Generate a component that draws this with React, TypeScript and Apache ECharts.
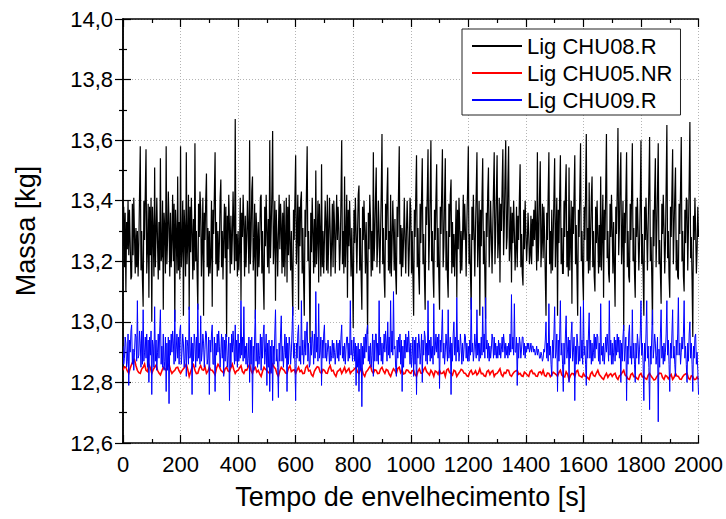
import React, { useEffect, useRef } from "react";
import * as echarts from "echarts";

// Tick labels
const xTicks = [0, 200, 400, 600, 800, 1000, 1200, 1400, 1600, 1800, 2000];
const yTicks = [12.6, 12.8, 13.0, 13.2, 13.4, 13.6, 13.8, 14.0];

// Sampling steps (s)
const stepCHU08 = 2.5;
const stepCHU09 = 2.5;
const stepCHU05 = 5;

// Lig CHU08.R (black), every 2.5 s
const chu08 = [
  13.25,13.38,13.18,13.36,13.10,13.33,13.24,13.40,13.22,13.37,13.26,13.14,13.15,13.39,13.22,13.41,13.28,13.16,13.31,13.18,13.30,13.15,13.26,13.42,13.58,13.17,13.30,13.14,13.05,13.40,13.27,13.43,13.57,13.16,13.24,13.39,13.08,13.38,13.22,13.41,
  13.00,13.38,13.30,13.15,13.51,13.18,13.29,13.41,13.26,13.14,13.33,13.17,13.54,13.20,13.22,13.40,13.04,13.36,13.31,13.16,13.58,13.19,13.28,13.43,13.32,13.15,13.36,13.18,13.27,13.42,13.20,13.39,13.00,13.37,13.29,13.16,13.48,13.17,13.33,13.14,
  13.58,13.18,13.25,13.40,13.02,13.37,13.30,13.15,13.56,13.19,13.27,13.42,13.04,13.38,13.23,13.41,13.30,13.14,13.34,13.17,13.59,13.20,13.30,13.16,13.04,13.39,13.28,13.43,13.37,13.15,13.25,13.41,13.02,13.36,13.27,13.40,13.49,13.18,13.31,13.15,
  13.30,13.16,13.22,13.40,13.05,13.37,13.29,13.42,13.56,13.19,13.33,13.15,13.30,13.17,13.26,13.41,13.47,13.18,13.30,13.14,13.28,13.39,13.21,13.38,12.95,13.35,13.24,13.42,13.31,13.16,13.35,13.19,13.28,13.43,13.31,13.17,13.67,13.20,13.29,13.15,
  13.30,13.17,13.24,13.41,13.07,13.36,13.28,13.42,13.32,13.15,13.35,13.18,13.28,13.40,13.30,13.16,13.60,13.19,13.27,13.43,13.48,13.17,13.23,13.39,13.01,13.36,13.29,13.15,13.33,13.18,13.26,13.41,13.42,13.16,13.30,13.14,13.04,13.38,13.25,13.42,
  13.30,13.18,13.34,13.16,13.60,13.21,13.31,13.43,13.63,13.19,13.26,13.40,13.07,13.37,13.28,13.15,13.29,13.42,13.24,13.39,13.32,13.16,13.36,13.18,13.40,13.15,13.28,13.41,13.13,13.38,13.22,13.42,13.26,13.17,13.30,13.15,13.02,13.37,13.27,13.41,
  13.55,13.19,13.29,13.42,13.04,13.38,13.25,13.40,13.43,13.16,13.31,13.14,13.02,13.37,13.28,13.43,13.58,13.20,13.30,13.15,12.93,13.36,13.23,13.41,13.30,13.16,13.34,13.18,13.50,13.19,13.27,13.40,13.13,13.39,13.29,13.15,13.52,13.18,13.30,13.16,
  13.27,13.40,13.33,13.17,13.42,13.16,13.29,13.41,13.30,13.15,13.26,13.39,13.18,13.40,13.32,13.16,13.29,13.42,13.27,13.38,13.31,13.17,13.24,13.41,13.60,13.19,13.30,13.16,13.48,13.18,13.28,13.42,13.08,13.37,13.25,13.40,13.28,13.15,13.31,13.17,
  12.98,13.37,13.26,13.41,13.30,13.16,13.29,13.42,13.45,13.17,13.31,13.15,13.04,13.38,13.27,13.40,13.29,13.16,13.33,13.18,12.96,13.36,13.24,13.42,13.34,13.15,13.30,13.17,13.56,13.20,13.28,13.41,13.51,13.18,13.25,13.40,13.30,13.16,13.29,13.43,
  13.62,13.19,13.31,13.15,13.08,13.39,13.27,13.42,13.51,13.17,13.30,13.16,13.42,13.15,13.26,13.40,13.30,13.17,13.34,13.16,13.09,13.38,13.28,13.43,13.58,13.19,13.32,13.15,13.31,13.18,13.27,13.41,13.28,13.16,13.30,13.40,13.29,13.15,13.24,13.41,
  13.37,13.16,13.30,13.15,13.02,13.37,13.28,13.42,13.55,13.18,13.31,13.16,13.09,13.39,13.26,13.41,13.54,13.19,13.29,13.15,13.04,13.38,13.32,13.43,13.57,13.17,13.28,13.42,13.60,13.20,13.30,13.16,13.08,13.37,13.27,13.41,13.52,13.18,13.31,13.15,
  13.04,13.38,13.29,13.43,13.57,13.18,13.25,13.41,13.54,13.17,13.30,13.15,13.08,13.39,13.28,13.42,13.47,13.16,13.33,13.18,13.29,13.15,13.26,13.40,13.08,13.37,13.24,13.41,13.32,13.16,13.30,13.17,13.28,13.42,13.27,13.39,13.30,13.15,13.33,13.44,
  13.58,13.19,13.29,13.16,13.04,13.38,13.27,13.42,13.29,13.15,13.31,13.43,13.56,13.18,13.28,13.40,13.02,13.37,13.25,13.41,13.54,13.19,13.30,13.15,13.01,13.36,13.28,13.43,13.51,13.18,13.26,13.40,13.29,13.16,13.31,13.44,13.56,13.19,13.29,13.42,
  13.55,13.21,13.27,13.41,13.13,13.39,13.30,13.45,13.57,13.22,13.32,13.48,13.60,13.24,13.28,13.46,13.58,13.20,13.25,13.38,13.13,13.36,13.26,13.40,13.30,13.17,13.24,13.38,13.18,13.35,13.27,13.41,13.52,13.18,13.29,13.16,13.12,13.37,13.24,13.40,
  13.30,13.20,13.26,13.36,13.29,13.19,13.22,13.35,13.19,13.34,13.25,13.37,13.27,13.40,13.30,13.17,13.56,13.20,13.28,13.42,13.53,13.18,13.26,13.39,13.21,13.38,13.29,13.15,13.02,13.36,13.27,13.42,13.56,13.19,13.30,13.16,13.37,13.17,13.28,13.41,
  13.54,13.18,13.29,13.41,13.02,13.37,13.26,13.42,13.55,13.19,13.31,13.16,13.16,13.40,13.28,13.43,13.52,13.18,13.30,13.15,13.51,13.17,13.27,13.40,13.06,13.38,13.29,13.42,13.55,13.19,13.32,13.16,13.02,13.37,13.28,13.43,13.59,13.20,13.30,13.15,
  13.07,13.38,13.27,13.43,13.62,13.20,13.31,13.16,13.46,13.17,13.28,13.41,13.48,13.18,13.30,13.15,13.10,13.38,13.26,13.40,13.28,13.16,13.32,13.18,13.48,13.17,13.29,13.42,13.08,13.37,13.27,13.44,13.62,13.21,13.30,13.16,13.13,13.39,13.28,13.42,
  13.30,13.16,13.33,13.18,13.05,13.38,13.29,13.44,13.64,13.22,13.31,13.47,13.56,13.19,13.28,13.40,12.97,13.36,13.26,13.42,13.56,13.18,13.30,13.15,13.13,13.39,13.27,13.43,13.59,13.20,13.31,13.16,13.08,13.38,13.28,13.41,13.30,13.17,13.26,13.40,
  13.60,13.19,13.29,13.16,13.02,13.38,13.27,13.41,13.30,13.17,13.32,13.45,13.61,13.20,13.28,13.15,12.99,13.37,13.25,13.42,13.54,13.18,13.30,13.44,13.59,13.19,13.27,13.16,13.06,13.39,13.29,13.42,13.31,13.16,13.26,13.45,13.65,13.21,13.30,13.15,
  13.08,13.38,13.28,13.43,13.57,13.19,13.31,13.42,13.51,13.17,13.27,13.15,13.14,13.39,13.29,13.44,13.61,13.20,13.30,13.15,13.10,13.37,13.26,13.41,13.40,13.17,13.31,13.46,13.66,13.21,13.28,13.14,12.95,13.35,13.27,13.41,13.30,13.16,13.24,13.38,
  13.28,
];

// Lig CHU05.NR (red), every 5 s
const chu05 = [
  12.84,12.852,12.85,12.838,12.83,12.847,12.86,12.87,12.875,12.855,12.84,12.832,12.83,12.844,12.85,12.861,12.84,12.836,12.86,12.848,
  12.83,12.842,12.85,12.857,12.84,12.831,12.825,12.838,12.85,12.846,12.84,12.853,12.86,12.841,12.83,12.836,12.84,12.849,12.85,12.838,
  12.83,12.839,12.845,12.851,12.86,12.843,12.82,12.835,12.85,12.858,12.84,12.829,12.83,12.846,12.855,12.842,12.84,12.852,12.83,12.837,
  12.85,12.841,12.84,12.833,12.825,12.847,12.86,12.852,12.84,12.836,12.83,12.845,12.85,12.838,12.835,12.849,12.86,12.843,12.83,12.838,
  12.84,12.848,12.855,12.836,12.83,12.842,12.84,12.851,12.86,12.839,12.83,12.846,12.85,12.834,12.84,12.828,12.82,12.837,12.85,12.843,
  12.84,12.833,12.83,12.848,12.86,12.851,12.845,12.829,12.82,12.838,12.85,12.844,12.84,12.831,12.83,12.847,12.855,12.836,12.84,12.842,
  12.83,12.841,12.85,12.836,12.84,12.829,12.83,12.849,12.855,12.838,12.84,12.826,12.82,12.837,12.845,12.852,12.85,12.834,12.83,12.843,
  12.84,12.831,12.83,12.846,12.855,12.838,12.84,12.827,12.82,12.836,12.84,12.845,12.83,12.839,12.85,12.833,12.84,12.846,12.83,12.837,
  12.84,12.846,12.85,12.834,12.83,12.841,12.845,12.828,12.82,12.835,12.84,12.848,12.855,12.837,12.83,12.842,12.84,12.829,12.83,12.844,
  12.85,12.838,12.83,12.843,12.84,12.827,12.82,12.834,12.845,12.839,12.83,12.846,12.85,12.832,12.84,12.828,12.83,12.841,12.84,12.833,
  12.83,12.839,12.84,12.826,12.82,12.837,12.845,12.831,12.83,12.842,12.85,12.836,12.83,12.824,12.84,12.833,12.82,12.838,12.835,12.827,
  12.84,12.829,12.83,12.836,12.82,12.841,12.845,12.832,12.83,12.824,12.84,12.837,12.82,12.828,12.835,12.843,12.84,12.831,12.83,12.822,
  12.82,12.834,12.84,12.827,12.83,12.838,12.825,12.831,12.845,12.829,12.83,12.822,12.82,12.836,12.84,12.826,12.835,12.839,12.82,12.828,
  12.83,12.837,12.845,12.826,12.82,12.833,12.83,12.841,12.84,12.824,12.82,12.829,12.835,12.838,12.84,12.827,12.83,12.822,12.82,12.834,
  12.83,12.824,12.82,12.836,12.84,12.829,12.83,12.821,12.82,12.833,12.835,12.827,12.84,12.823,12.82,12.831,12.83,12.819,12.825,12.834,
  12.83,12.826,12.82,12.833,12.84,12.824,12.82,12.818,12.835,12.827,12.81,12.823,12.83,12.829,12.82,12.836,12.84,12.822,12.82,12.817,
  12.83,12.821,12.82,12.815,12.81,12.828,12.835,12.823,12.82,12.831,12.84,12.826,12.82,12.814,12.81,12.822,12.83,12.817,12.825,12.829,
  12.82,12.827,12.83,12.816,12.81,12.822,12.825,12.833,12.84,12.824,12.82,12.812,12.81,12.826,12.83,12.819,12.82,12.814,12.81,12.825,
  12.83,12.818,12.82,12.813,12.81,12.824,12.83,12.821,12.815,12.808,12.81,12.819,12.825,12.831,12.83,12.816,12.81,12.823,12.82,12.812,
  12.82,12.826,12.81,12.817,12.83,12.821,12.82,12.811,12.81,12.819,12.825,12.828,12.83,12.814,12.81,12.822,12.82,12.809,12.81,12.818,
  12.81,
];

// Lig CHU09.R (blue), every 2.5 s
const chu09 = [
  12.92,12.86,12.88,12.95,12.93,12.85,12.87,12.96,12.79,12.94,12.90,12.97,12.99,12.86,12.91,12.84,12.90,12.96,12.95,12.87,13.07,12.88,12.89,12.97,12.93,12.85,12.97,12.86,13.04,12.87,12.90,12.95,12.88,12.96,12.85,12.94,12.80,12.95,12.89,12.97,
  12.76,12.94,12.92,12.85,13.05,12.87,12.94,12.84,12.90,12.96,12.88,12.97,13.04,12.86,12.92,12.85,12.96,12.84,12.87,12.95,12.77,12.93,12.84,12.95,12.73,12.94,12.89,12.96,12.90,12.97,12.93,12.86,13.04,12.87,12.91,12.96,12.88,12.95,12.86,12.97,
  12.99,12.86,12.90,12.96,12.93,12.85,12.88,12.95,12.82,12.94,12.92,12.86,13.05,12.88,12.89,12.95,12.76,12.93,12.87,12.96,12.93,12.85,12.95,12.87,13.06,12.88,12.93,12.86,13.02,12.87,12.90,12.96,12.93,12.85,12.91,12.97,12.96,12.86,12.88,12.95,
  12.76,12.94,12.90,12.96,12.99,12.86,12.86,12.95,12.77,12.93,12.89,12.96,12.90,12.97,12.92,12.85,12.90,12.96,12.88,12.95,12.82,12.94,12.87,12.96,12.93,12.85,12.89,12.95,12.74,12.93,12.85,12.96,12.90,12.97,12.92,12.86,12.99,12.87,12.94,12.85,
  12.96,12.87,12.93,12.88,13.07,12.89,12.95,12.87,13.05,12.88,12.92,12.86,12.93,12.85,12.88,12.95,12.80,12.94,12.86,12.95,12.70,12.92,12.84,12.95,13.04,12.87,12.93,12.85,12.93,12.86,12.89,12.96,12.84,12.95,12.88,12.96,12.99,12.86,12.90,12.96,
  12.79,12.93,12.85,12.94,12.77,12.92,12.83,12.94,12.74,12.92,12.86,12.96,13.04,12.87,12.91,12.85,12.75,12.93,12.87,12.96,13.02,12.87,12.92,12.85,12.90,12.96,12.88,12.95,12.77,12.93,12.86,12.95,12.92,12.86,12.90,12.97,13.05,12.88,12.93,12.86,
  12.74,12.93,12.88,12.96,12.99,12.87,12.92,12.86,13.07,12.89,12.94,12.86,12.90,12.97,12.89,12.96,13.00,12.87,12.93,12.85,12.86,12.95,12.89,12.97,12.93,12.86,12.96,12.88,13.10,12.90,12.95,12.87,13.06,12.88,12.90,12.95,12.79,12.94,12.88,12.96,
  12.99,12.88,12.93,12.87,12.90,12.94,12.91,12.86,12.92,12.87,12.89,12.94,12.88,12.93,12.90,12.86,12.90,12.94,12.88,12.93,12.87,12.94,12.89,12.95,12.99,12.88,12.92,12.87,12.93,12.86,12.91,12.95,12.95,12.87,12.93,12.88,13.07,12.89,12.94,12.87,
  12.90,12.95,12.87,12.93,12.79,12.92,12.85,12.93,12.77,12.91,12.84,12.93,12.72,12.92,12.86,12.95,12.88,12.96,12.90,12.97,12.99,12.87,12.92,12.86,12.93,12.85,12.89,12.96,12.82,12.94,12.87,12.96,12.96,12.87,12.93,12.86,13.07,12.89,12.95,12.87,
  12.93,12.86,12.91,12.96,12.90,12.97,12.93,12.87,13.00,12.89,12.95,12.88,13.07,12.90,12.97,12.89,13.10,12.91,12.92,12.85,12.82,12.94,12.88,12.95,12.90,12.96,12.86,12.94,12.77,12.92,12.85,12.94,12.88,12.96,12.90,12.95,12.90,12.97,12.92,12.86,
  12.93,12.85,12.89,12.95,12.82,12.94,12.86,12.95,12.76,12.93,12.88,12.96,12.93,12.86,12.90,12.96,12.80,12.94,12.89,12.97,12.95,12.87,12.93,12.86,13.07,12.89,12.94,12.87,12.95,12.88,12.92,12.86,13.06,12.89,12.91,12.96,12.90,12.95,12.88,12.96,
  12.78,12.94,12.90,12.96,13.04,12.88,12.93,12.86,12.90,12.96,12.92,12.87,13.04,12.88,12.91,12.95,12.76,12.93,12.87,12.96,13.00,12.89,12.95,12.87,13.08,12.90,12.94,12.87,12.90,12.96,12.92,12.86,12.93,12.87,12.91,12.96,12.95,12.88,12.93,12.87,
  12.92,12.87,12.94,12.89,13.08,12.90,12.93,12.87,12.90,12.96,12.92,12.88,13.04,12.89,12.93,12.87,12.93,12.88,12.95,12.89,13.05,12.90,12.96,12.88,13.08,12.91,12.94,12.88,12.93,12.87,12.92,12.88,12.91,12.96,12.94,12.88,12.95,12.89,12.93,12.88,
  12.92,12.88,12.94,12.89,12.93,12.88,12.91,12.95,12.90,12.96,12.93,12.88,12.93,12.89,12.92,12.88,12.93,12.89,12.96,12.90,13.09,12.91,12.95,12.89,13.06,12.90,12.90,12.95,12.79,12.93,12.88,12.95,12.93,12.88,12.91,12.95,12.95,12.89,12.93,12.88,
  12.92,12.90,12.93,12.91,12.93,12.90,12.91,12.93,12.90,12.92,12.92,12.90,12.91,12.89,12.90,12.92,12.89,12.91,12.90,12.88,12.88,12.90,12.89,12.87,12.88,12.91,12.90,12.94,13.00,12.88,12.93,12.87,13.06,12.89,12.92,12.86,12.82,12.94,12.88,12.96,
  13.05,12.88,12.90,12.96,12.77,12.94,12.87,12.96,13.07,12.89,12.93,12.86,12.77,12.93,12.86,12.96,13.02,12.88,12.91,12.95,12.80,12.94,12.88,12.96,13.00,12.87,12.90,12.95,12.74,12.92,12.86,12.96,12.93,12.86,12.92,12.87,13.05,12.88,12.94,12.86,
  13.07,12.89,12.92,12.86,12.79,12.94,12.88,12.96,13.03,12.88,12.94,12.86,12.93,12.87,12.90,12.96,12.88,12.95,12.91,12.96,12.95,12.87,12.93,12.86,13.06,12.89,12.92,12.87,12.93,12.86,12.90,12.95,12.90,12.96,12.92,12.87,13.07,12.89,12.94,12.86,
  12.93,12.86,12.90,12.95,12.87,12.94,12.89,12.96,12.90,12.95,12.88,12.94,12.80,12.93,12.87,12.95,12.99,12.87,12.91,12.95,12.74,12.92,12.86,12.96,12.99,12.88,12.92,12.86,13.04,12.88,12.93,12.86,12.80,12.93,12.88,12.96,12.93,12.86,12.91,12.96,
  13.07,12.89,12.93,12.86,12.74,12.93,12.87,12.96,13.07,12.88,12.92,12.85,12.71,12.92,12.86,12.96,13.04,12.88,12.91,12.96,12.93,12.86,12.89,12.95,12.67,12.91,12.85,12.96,13.04,12.88,12.92,12.86,12.93,12.87,12.90,12.96,13.07,12.89,12.94,12.86,
  12.77,12.93,12.88,12.96,13.04,12.88,12.92,12.86,12.82,12.94,12.89,12.96,13.08,12.89,12.93,12.86,12.90,12.95,12.91,12.96,13.07,12.88,12.92,12.86,12.80,12.93,12.87,12.96,13.00,12.88,12.93,12.86,12.77,12.92,12.88,12.95,12.96,12.86,12.90,12.84,
  12.76,
];

const seriesNames = ["Lig CHU08.R", "Lig CHU05.NR", "Lig CHU09.R"];
const seriesColors = ["#000000", "#ff0000", "#0000ff"];
const seriesWidths = [1.2, 1.6, 1.0];

const FONT = "'Liberation Sans', Arial, Helvetica, sans-serif";

function toPairs(values: number[], step: number): [number, number][] {
  return values.map((v, i) => [i * step, v]);
}

export default function App() {
  const ref = useRef<HTMLDivElement>(null);

  useEffect(() => {
    if (!ref.current) return;
    const chart = echarts.init(ref.current, undefined, { renderer: "svg" });

    const gridDash = { color: "#b4b4b4", type: [1, 2] as any, width: 1 };
    const tick = { show: true, inside: true, length: 8, lineStyle: { color: "#000", width: 1.2 } };
    const minor = { show: true, splitNumber: 2, length: 4, lineStyle: { color: "#000", width: 1.2 } };
    const axisLine = { show: true, lineStyle: { color: "#000", width: 1.5 } };

    const steps = [stepCHU08, stepCHU05, stepCHU09];
    const datas = [chu08, chu05, chu09];

    // Custom series: one polyline through every sample, positioned by the axis scales.
    const makeSeries = (i: number) => {
      const pairs = toPairs(datas[i], steps[i]);
      return {
        name: seriesNames[i],
        type: "custom",
        data: pairs,
        encode: { x: 0, y: 1 },
        color: seriesColors[i],
        itemStyle: { color: seriesColors[i] },
        z: 2 + i,
        clip: true,
        renderItem: (params: any, api: any) => {
          if (params.dataIndex !== 0) return null;
          const pts = pairs.map((p) => api.coord(p));
          return {
            type: "polyline",
            silent: true,
            shape: { points: pts },
            style: {
              stroke: seriesColors[i],
              lineWidth: seriesWidths[i],
              fill: null,
              lineJoin: "miter",
            },
          };
        },
      };
    };

    const option: any = {
      animation: false,
      backgroundColor: "#ffffff",
      textStyle: { fontFamily: FONT },
      grid: { left: 123, right: 26, top: 19, bottom: 76, containLabel: false },
      legend: {
        data: seriesNames,
        orient: "vertical",
        left: 462,
        top: 29,
        padding: [6, 8, 4, 10],
        itemGap: 5,
        itemWidth: 50,
        itemHeight: 2,
        itemTextGap: 7,
        icon: "rect",
        borderColor: "#222",
        borderWidth: 1,
        borderRadius: 0,
        backgroundColor: "#ffffff",
        textStyle: { fontSize: 22, color: "#000", fontFamily: FONT, lineHeight: 22 },
      },
      xAxis: [
        {
          type: "value",
          min: xTicks[0],
          max: xTicks[xTicks.length - 1],
          interval: 200,
          name: "Tempo de envelhecimento [s]",
          nameLocation: "middle",
          nameGap: 40,
          nameTextStyle: { fontSize: 27, color: "#000", fontFamily: FONT },
          axisLine,
          axisTick: tick,
          minorTick: minor,
          axisLabel: {
            margin: 10,
            fontSize: 22,
            color: "#000",
            fontFamily: FONT,
            formatter: (v: number) => String(v),
          },
          splitLine: { show: true, lineStyle: gridDash },
        },
        {
          type: "value",
          position: "top",
          min: xTicks[0],
          max: xTicks[xTicks.length - 1],
          interval: 200,
          axisLine,
          axisTick: tick,
          minorTick: minor,
          axisLabel: { show: false },
          splitLine: { show: false },
        },
      ],
      yAxis: [
        {
          type: "value",
          min: yTicks[0],
          max: yTicks[yTicks.length - 1],
          interval: 0.2,
          name: "Massa [kg]",
          nameLocation: "middle",
          nameGap: 84,
          nameRotate: 90,
          nameTextStyle: { fontSize: 27, color: "#000", fontFamily: FONT },
          axisLine,
          axisTick: tick,
          minorTick: minor,
          axisLabel: {
            margin: 10,
            fontSize: 22,
            color: "#000",
            fontFamily: FONT,
            formatter: (v: number) => v.toFixed(1).replace(".", ","),
          },
          splitLine: { show: true, lineStyle: gridDash },
        },
        {
          type: "value",
          position: "right",
          min: yTicks[0],
          max: yTicks[yTicks.length - 1],
          interval: 0.2,
          axisLine,
          axisTick: tick,
          minorTick: minor,
          axisLabel: { show: false },
          splitLine: { show: false },
        },
      ],
      series: [0, 1, 2].map(makeSeries),
    };

    chart.setOption(option);
    return () => chart.dispose();
  }, []);

  return (
    <div
      ref={ref}
      style={{ position: "absolute", left: 0, top: 0, width: 726, height: 519, background: "#fff" }}
    />
  );
}
